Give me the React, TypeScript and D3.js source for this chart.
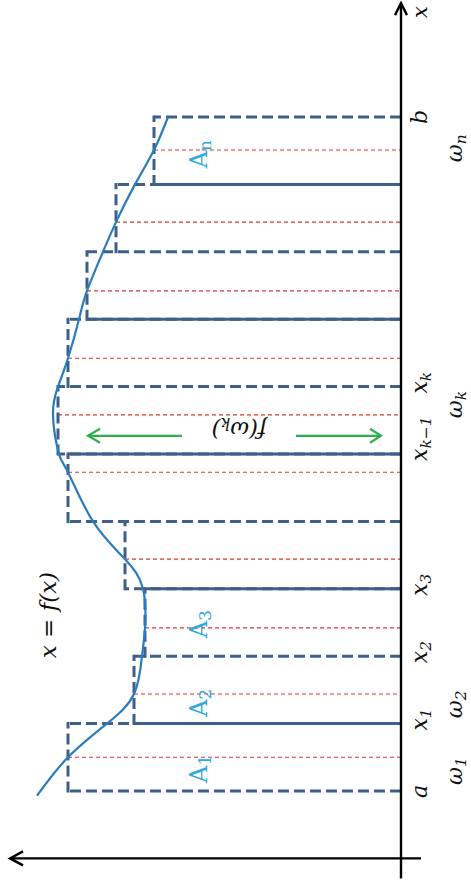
import React, { useEffect, useRef } from "react";
import * as d3 from "d3";

// partition points a = x0 ... x10 = b
const partition = [0, 1, 2, 3, 4, 5, 6, 7, 8, 9, 10];
const partitionMain = ["a", "x", "x", "x", "", "x", "x", "", "", "", "b"];
const partitionSub = ["", "1", "2", "3", "", "k−1", "k", "", "", "", ""];

// sample points ω_i and rectangle heights f(ω_i)
const samples = [0.5, 1.44, 2.42, 3.44, 4.73, 5.58, 6.42, 7.42, 8.44, 9.51];
const heights = [333, 267, 256, 276, 333, 343, 333, 314, 285, 247];

// curve x = f(x)
const curveT = [-0.07, 0.5, 1.0, 1.44, 2.0, 2.42, 3.0, 3.44, 4.0, 4.73, 5.0, 5.58, 6.0, 6.42, 7.0, 7.42, 8.0, 8.44, 9.0, 9.51, 10.0];
const curveF = [364, 333, 294, 267, 259, 256, 258, 276, 308, 333, 342, 348, 343, 333, 322, 314, 298, 285, 266, 247, 233];

// labels under the axis
const omegaSub = ["1", "2", "k", "n"];
const omegaPos = [0.09, 1.08, 5.53, 9.33];
const areaSub = ["1", "2", "3", "n"];
const areaPos = [0.12, 1.1, 2.27, 9.24];

const W = 471;
const H = 886;
const navy = "#3e5f8a";
const serif = "'DejaVu Serif', 'Liberation Serif', serif";

export default function App() {
  const ref = useRef<SVGSVGElement>(null);

  useEffect(() => {
    const svg = d3.select(ref.current).attr("width", W).attr("height", H);
    svg.selectAll("*").remove();

    const x = d3.scaleLinear().domain([0, 10]).range([791, 117]);
    const f = d3.scaleLinear().domain([0, 400]).range([401, 1]);

    const sub = (
      t: d3.Selection<SVGTextElement, unknown, null, undefined>,
      main: string,
      s: string
    ) => {
      t.append("tspan").text(main);
      if (s) {
        t.append("tspan").attr("font-size", "0.7em").attr("dy", "0.25em").text(s);
      }
    };

    const neighbours = (p: number) =>
      [heights[p - 1], heights[p]].filter((v) => v !== undefined) as number[];

    // red sample lines
    svg
      .append("g")
      .selectAll("line")
      .data(samples)
      .join("line")
      .attr("x1", (d, i) => f(heights[i]))
      .attr("x2", f(0))
      .attr("y1", (d) => x(d))
      .attr("y2", (d) => x(d))
      .attr("stroke", "#e0352e")
      .attr("stroke-width", 1.1)
      .attr("stroke-dasharray", "4,3");

    // dashed left sides of the rectangles
    svg
      .append("g")
      .selectAll("line")
      .data(heights)
      .join("line")
      .attr("x1", (d) => f(d))
      .attr("x2", (d) => f(d))
      .attr("y1", (d, i) => x(i) + 1.5)
      .attr("y2", (d, i) => x(i + 1) - 1.5)
      .attr("stroke", navy)
      .attr("stroke-width", 3)
      .attr("stroke-dasharray", "11,5");

    // dashed partition lines, full length
    svg
      .append("g")
      .selectAll("line")
      .data(partition)
      .join("line")
      .attr("x1", f(0))
      .attr("x2", (p) => f(d3.max(neighbours(p))!))
      .attr("y1", (p) => x(p))
      .attr("y2", (p) => x(p))
      .attr("stroke", navy)
      .attr("stroke-width", 3)
      .attr("stroke-dasharray", "11,5");

    // solid partition lines at odd points
    svg
      .append("g")
      .selectAll("line")
      .data(partition.filter((p) => p % 2 === 1))
      .join("line")
      .attr("x1", (p) => f(d3.min(neighbours(p))!))
      .attr("x2", f(0))
      .attr("y1", (p) => x(p))
      .attr("y2", (p) => x(p))
      .attr("stroke", navy)
      .attr("stroke-width", 3);

    // curve
    const line = d3
      .line<number>()
      .x((d) => f(d))
      .y((d, i) => x(curveT[i]))
      .curve(d3.curveNatural);
    svg
      .append("path")
      .attr("d", line(curveF))
      .attr("fill", "none")
      .attr("stroke", "#2a7cbc")
      .attr("stroke-width", 2.2);

    // axes
    const ax = svg.append("g").attr("stroke", "#000").attr("fill", "none").attr("stroke-width", 2.4);
    ax.append("line").attr("x1", f(0)).attr("x2", f(0)).attr("y1", x(-1.3)).attr("y2", x(11.69));
    ax.append("path").attr("d", `M${f(0) - 6},${x(11.69) + 12}L${f(0)},${x(11.69)}L${f(0) + 6},${x(11.69) + 12}`);
    ax.append("line").attr("x1", f(-20)).attr("x2", f(391)).attr("y1", x(-1)).attr("y2", x(-1));
    ax.append("path").attr("d", `M${f(378)},${x(-1) - 7}L${f(391)},${x(-1)}L${f(378)},${x(-1) + 7}`);

    // axis label x
    const xl = svg
      .append("text")
      .attr("transform", `translate(427,${x(11.69) + 15}) rotate(-90)`)
      .attr("font-family", serif)
      .attr("font-style", "italic")
      .attr("font-size", 21);
    sub(xl, "x", "");

    // partition labels
    partition.forEach((p, i) => {
      if (!partitionMain[i]) return;
      const t = svg
        .append("text")
        .attr("transform", `translate(427,${x(p) + 7}) rotate(-90)`)
        .attr("font-family", serif)
        .attr("font-style", "italic")
        .attr("font-size", 22)
        .attr("fill", "#111");
      sub(t, partitionMain[i], partitionSub[i]);
    });

    // omega labels
    omegaSub.forEach((s, i) => {
      const t = svg
        .append("text")
        .attr("transform", `translate(462,${x(omegaPos[i])}) rotate(-90)`)
        .attr("font-family", serif)
        .attr("font-style", "italic")
        .attr("font-size", 22)
        .attr("fill", "#111");
      sub(t, "ω", s);
    });

    // area labels
    areaSub.forEach((s, i) => {
      const t = svg
        .append("text")
        .attr("transform", `translate(207,${x(areaPos[i])}) rotate(-90)`)
        .attr("font-family", serif)
        .attr("font-size", 24)
        .attr("fill", "#2aa8e0");
      sub(t, "A", s);
    });

    // curve label
    const cl = svg
      .append("text")
      .attr("transform", `translate(56,${x(1.97)}) rotate(-90)`)
      .attr("font-family", serif)
      .attr("font-style", "italic")
      .attr("font-size", 23)
      .attr("fill", "#111");
    cl.append("tspan").text("x = f(x)");

    // f(ω_k) height marker
    const ym = x(5.27);
    const green = svg.append("g").attr("stroke", "#2fae4c").attr("stroke-width", 2.2).attr("fill", "none");
    green.append("line").attr("x1", f(219)).attr("x2", f(313)).attr("y1", ym).attr("y2", ym);
    green.append("path").attr("d", `M${f(301)},${ym - 7}L${f(313)},${ym}L${f(301)},${ym + 7}`);
    green.append("line").attr("x1", f(105)).attr("x2", f(20)).attr("y1", ym).attr("y2", ym);
    green.append("path").attr("d", `M${f(31)},${ym - 7}L${f(20)},${ym}L${f(31)},${ym + 7}`);

    const fl = svg
      .append("text")
      .attr("transform", `translate(${f(162)},${ym - 14}) rotate(180)`)
      .attr("font-family", serif)
      .attr("font-style", "italic")
      .attr("font-size", 23)
      .attr("text-anchor", "middle")
      .attr("fill", "#111");
    fl.append("tspan").text("f(ω");
    fl.append("tspan").attr("font-size", "0.7em").attr("dy", "0.25em").text("k");
    fl.append("tspan").attr("dy", "-0.18em").text(")");
  }, []);

  return <svg ref={ref} style={{ position: "absolute", left: 0, top: 0, background: "#fff" }} />;
}
